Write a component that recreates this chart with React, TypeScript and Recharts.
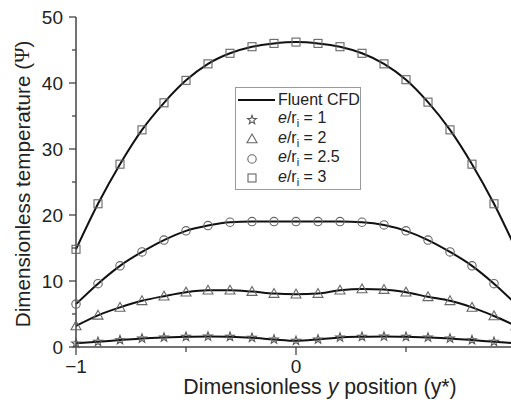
import React from "react";
import { ComposedChart, Line, XAxis, YAxis } from "recharts";

// dimensionless y position of the sampled points
const positions = [
  -1, -0.9, -0.8, -0.7, -0.6, -0.5, -0.4, -0.3, -0.2, -0.1, 0,
  0.1, 0.2, 0.3, 0.4, 0.5, 0.6, 0.7, 0.8, 0.9, 1,
];

// dimensionless temperature for each e/ri ratio
const ratio1 = [0.55, 0.8, 1.05, 1.3, 1.45, 1.55, 1.6, 1.55, 1.4, 1.15, 0.95, 1.15, 1.45, 1.55, 1.6, 1.55, 1.45, 1.3, 1.05, 0.8, 0.55];
const ratio2 = [3.2, 4.8, 6.0, 7.0, 7.7, 8.3, 8.6, 8.6, 8.4, 8.1, 8.0, 8.1, 8.6, 8.8, 8.7, 8.3, 7.6, 7.0, 6.0, 4.7, 3.2];
const ratio25 = [6.5, 9.6, 12.3, 14.4, 16.2, 17.6, 18.4, 18.9, 19.0, 19.0, 19.0, 19.0, 19.0, 18.9, 18.5, 17.6, 16.2, 14.4, 12.3, 9.6, 6.5];
const ratio3 = [14.8, 21.7, 27.7, 32.9, 37.0, 40.4, 42.9, 44.5, 45.5, 46.0, 46.2, 46.0, 45.5, 44.5, 42.9, 40.5, 37.1, 32.9, 27.7, 21.7, 14.8];

const ratioLabels = ["1", "2", "2.5", "3"];
const seriesKeys = ["r1", "r2", "r25", "r3"];
const markerShapes = ["star", "triangle", "circle", "square"];

const xTicks = [-1, -0.5, 0, 0.5, 1];
const xTickLabels = ["\u22121", "", "0", "", "1"];
const yTicks = [0, 5, 10, 15, 20, 25, 30, 35, 40, 45, 50];
const yTickLabels = ["0", "", "10", "", "20", "", "30", "", "40", "", "50"];

const data = positions.map((y, i) => ({
  y,
  r1: ratio1[i],
  r2: ratio2[i],
  r25: ratio25[i],
  r3: ratio3[i],
}));

const FONT = "'Liberation Sans', Arial, Helvetica, sans-serif";
const AXIS = "#444";
const MARK = "#666";
const TEXT = "#222";

function Marker({ cx, cy, shape }: { cx: number; cy: number; shape: string }) {
  if (cx == null || cy == null) return null;
  if (shape === "circle") {
    return <circle cx={cx} cy={cy} r={4.2} fill="none" stroke={MARK} strokeWidth={1.1} />;
  }
  if (shape === "square") {
    return <rect x={cx - 4} y={cy - 4} width={8} height={8} fill="none" stroke={MARK} strokeWidth={1.1} />;
  }
  if (shape === "triangle") {
    const pts = `${cx},${cy - 5} ${cx - 5},${cy + 3.8} ${cx + 5},${cy + 3.8}`;
    return <polygon points={pts} fill="none" stroke={MARK} strokeWidth={1.1} />;
  }
  const pts: string[] = [];
  for (let k = 0; k < 10; k++) {
    const a = ((-90 + 36 * k) * Math.PI) / 180;
    const r = k % 2 === 0 ? 4.6 : 1.9;
    pts.push(`${cx + r * Math.cos(a)},${cy + r * Math.sin(a)}`);
  }
  return <polygon points={pts.join(" ")} fill="none" stroke="#555" strokeWidth={1.1} />;
}

const YTick = (props: any) => {
  const { x, y, index } = props;
  const label = yTickLabels[index];
  const len = label ? 7 : 4;
  return (
    <g>
      <line x1={x - len} x2={x} y1={y} y2={y} stroke={AXIS} strokeWidth={1.3} />
      {label && (
        <text x={x - 13} y={y} dy="0.36em" textAnchor="end" fontSize={19} fontFamily={FONT} fill={TEXT}>
          {label}
        </text>
      )}
    </g>
  );
};

const XTick = (props: any) => {
  const { x, y, index } = props;
  const label = xTickLabels[index];
  const len = label ? 8 : 5;
  return (
    <g>
      <line x1={x} x2={x} y1={y} y2={y + len} stroke={AXIS} strokeWidth={1.3} />
      {label && (
        <text x={x} y={y + 26} textAnchor="middle" fontSize={19} fontFamily={FONT} fill={TEXT}>
          {label}
        </text>
      )}
    </g>
  );
};

const XLabel = (props: any) => {
  const { x, y, width } = props.viewBox;
  return (
    <text x={x + width / 2 + 24} y={y + 47} textAnchor="middle" fontSize={21.3} fontFamily={FONT} fill={TEXT}>
      Dimensionless <tspan fontStyle="italic">y</tspan> position (y*)
    </text>
  );
};

const YLabel = (props: any) => {
  const { y, height } = props.viewBox;
  const cx = 22;
  const cy = y + height / 2 + 2;
  return (
    <text
      x={cx}
      y={cy}
      transform={`rotate(-90, ${cx}, ${cy})`}
      textAnchor="middle"
      dominantBaseline="central"
      fontSize={20.7}
      fontFamily={FONT}
      fill={TEXT}
    >
      Dimensionless temperature (<tspan fontFamily="'Liberation Serif', serif">Ψ</tspan>)
    </text>
  );
};

function LegendBox() {
  const row: React.CSSProperties = { display: "flex", alignItems: "center", height: 19.5 };
  const text: React.CSSProperties = { fontSize: 16, fontFamily: FONT, color: TEXT, whiteSpace: "nowrap" };
  return (
    <div
      style={{
        position: "absolute",
        left: 235,
        top: 87,
        width: 124,
        height: 99,
        border: "1px solid #9a9a9a",
        background: "#fff",
        paddingTop: 2,
        boxSizing: "content-box",
      }}
    >
      <div style={row}>
        <svg width={42} height={19.5}>
          <line x1={2} x2={39} y1={10} y2={10} stroke="#111" strokeWidth={2} />
        </svg>
        <span style={text}>Fluent CFD</span>
      </div>
      {ratioLabels.map((r, i) => (
        <div style={row} key={r}>
          <svg width={42} height={19.5}>
            <Marker cx={16} cy={10} shape={markerShapes[i]} />
          </svg>
          <span style={text}>
            <i>e</i>/r<sub style={{ fontSize: 11, verticalAlign: -4 }}>i</sub> = {r}
          </span>
        </div>
      ))}
    </div>
  );
}

export default function App() {
  return (
    <div
      style={{
        position: "fixed",
        left: 0,
        top: 0,
        width: 511,
        height: 407,
        overflow: "hidden",
        background: "#fff",
      }}
    >
      <ComposedChart width={540} height={407} data={data} margin={{ top: 17, right: 24, left: 0, bottom: 0 }}>
        <XAxis
          dataKey="y"
          type="number"
          domain={[-1, 1]}
          ticks={xTicks}
          interval={0}
          height={60}
          tickSize={0}
          tickMargin={0}
          tickLine={false}
          axisLine={{ stroke: AXIS, strokeWidth: 1.5 }}
          tick={<XTick />}
          label={{ content: <XLabel /> }}
        />
        <YAxis
          type="number"
          domain={[0, 50]}
          ticks={yTicks}
          interval={0}
          width={76}
          tickSize={0}
          tickMargin={0}
          tickLine={false}
          axisLine={{ stroke: AXIS, strokeWidth: 1.5 }}
          tick={<YTick />}
          label={{ content: <YLabel /> }}
        />
        {seriesKeys.map((k, i) => (
          <Line
            key={`m-${k}`}
            dataKey={k}
            stroke="none"
            isAnimationActive={false}
            activeDot={false}
            dot={(p: any) => <Marker key={`${k}-${p.index}`} cx={p.cx} cy={p.cy} shape={markerShapes[i]} />}
          />
        ))}
        {seriesKeys.map((k) => (
          <Line
            key={`l-${k}`}
            dataKey={k}
            type="monotone"
            stroke="#111"
            strokeWidth={2}
            dot={false}
            activeDot={false}
            isAnimationActive={false}
          />
        ))}
      </ComposedChart>
      <LegendBox />
    </div>
  );
}
